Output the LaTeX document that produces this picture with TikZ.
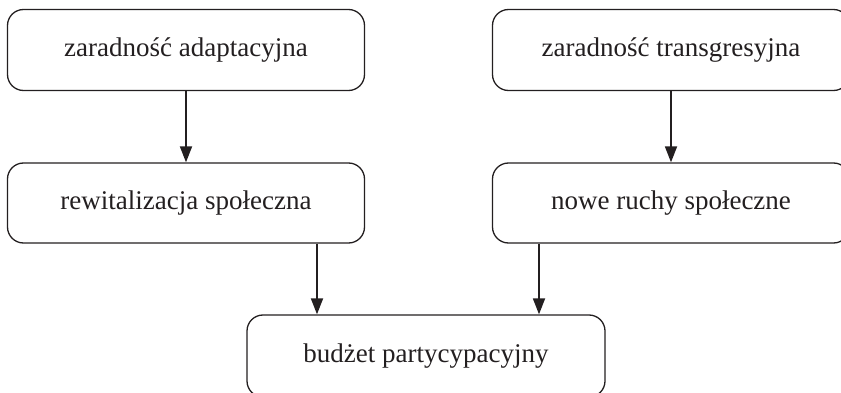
\documentclass[tikz,border=0pt]{standalone}
\usepackage{fontspec}
\setmainfont{Liberation Serif}
\usetikzlibrary{arrows.meta,calc}
\definecolor{ink}{HTML}{231F20}
\begin{document}
\begin{tikzpicture}[x=1pt,y=1pt,
  box/.style={draw=ink,line width=1.3pt,rounded corners=16pt,minimum width=357pt,minimum height=81pt,inner sep=0pt,text=ink,font=\fontsize{27}{31}\selectfont},
  arr/.style={draw=ink,line width=1.8pt,-{Triangle[length=16pt,width=12pt]}}]
\useasboundingbox (0,0) rectangle (841,-393);
\node[box] (b1) at (186,-50) {zaradność adaptacyjna};
\node[box] (b2) at (671,-50) {zaradność transgresyjna};
\node[box,minimum height=80pt] (b3) at (186,-203) {rewitalizacja społeczna};
\node[box,minimum height=80pt] (b4) at (671,-203) {nowe ruchy społeczne};
\node[box,minimum width=358pt,minimum height=82pt] (b5) at (426,-356) {budżet partycypacyjny};
\coordinate (cL) at (317,0);
\coordinate (cR) at (539,0);
\draw[arr] (b1.south) -- (b3.north);
\draw[arr] (b2.south) -- (b4.north);
\draw[arr] (b3.south -| cL) -- (b5.north -| cL);
\draw[arr] (b4.south -| cR) -- (b5.north -| cR);
\end{tikzpicture}
\end{document}
